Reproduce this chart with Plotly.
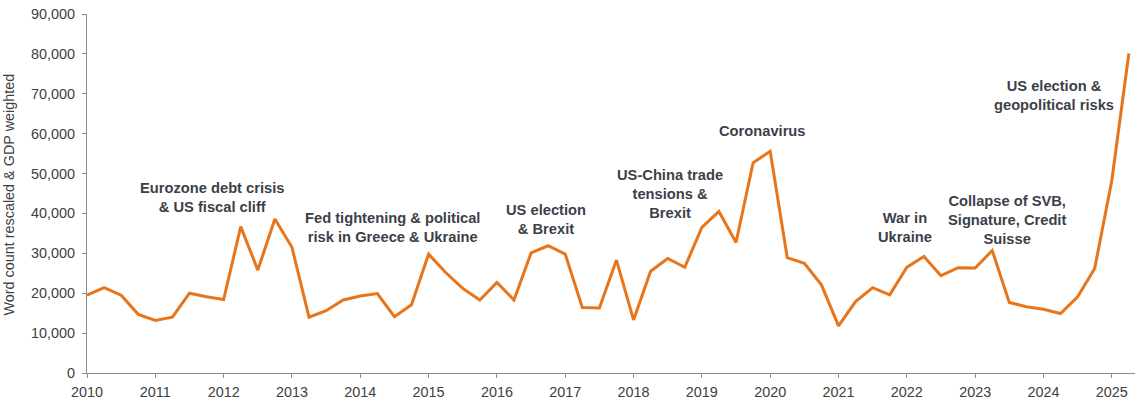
import plotly.graph_objects as go

quarters = [2010 + 0.25 * i for i in range(62)]
values = [
    19500, 21400, 19500, 14700, 13200, 14000, 20000, 19100,
    18400, 36700, 25800, 38600, 31500, 14000, 15600, 18300,
    19300, 19900, 14100, 17100, 29800, 25200, 21200, 18300,
    22700, 18300, 30100, 31900, 29800, 16400, 16300, 28300,
    13300, 25500, 28700, 26500, 36500, 40500, 32700, 52700,
    55600, 28900, 27500, 22100, 11800, 17900, 21400, 19600,
    26500, 29200, 24400, 26400, 26300, 30700, 17700, 16600,
    16000, 14900, 19100, 26200, 48200, 80100,
]

year_ticks = list(range(2010, 2026))
y_ticks = list(range(0, 90001, 10000))
y_tick_labels = ["0" if v == 0 else f"{v:,}" for v in y_ticks]

events = [
    "Eurozone debt crisis<br>& US fiscal cliff",
    "Fed tightening & political<br>risk in Greece & Ukraine",
    "US election<br>& Brexit",
    "US-China trade<br>tensions &<br>Brexit",
    "Coronavirus",
    "War in<br>Ukraine",
    "Collapse of SVB,<br>Signature, Credit<br>Suisse",
    "US election &<br>geopolitical risks",
]
event_x = [2011.83, 2014.47, 2016.72, 2018.53, 2019.89, 2021.97, 2023.46, 2024.15]
event_y = [44000, 36450, 38460, 45000, 60600, 36450, 38460, 69600]

FONT = "Liberation Sans, Arial, sans-serif"
TEXT = "#404040"
AXIS = "#8C8C8C"

fig = go.Figure()
fig.add_trace(go.Scatter(
    x=quarters, y=values, mode="lines",
    line=dict(color="#E8751A", width=3),
    hoverinfo="skip", showlegend=False,
))

for t, x, y in zip(events, event_x, event_y):
    fig.add_annotation(
        x=x, y=y, xref="x", yref="y", text=f"<b>{t}</b>",
        showarrow=False, align="center",
        font=dict(family=FONT, size=14.7, color="#3C3F4A"),
    )

# y-axis title
fig.add_annotation(
    x=-0.0744, y=0.497, xref="paper", yref="paper",
    text="Word count rescaled & GDP weighted", textangle=-90,
    showarrow=False, xanchor="center", yanchor="middle",
    font=dict(family=FONT, size=14.4, color=TEXT),
)

fig.update_layout(
    width=1138, height=399,
    margin=dict(l=87, r=3, t=14, b=26),
    paper_bgcolor="white", plot_bgcolor="white",
    font=dict(family=FONT, size=14.4, color=TEXT),
    xaxis=dict(
        range=[2010, 2025.34], tickvals=year_ticks, ticktext=[str(y) for y in year_ticks],
        showgrid=False, zeroline=False, showline=True, linecolor=AXIS, linewidth=1,
        ticks="outside", ticklen=4, tickcolor=AXIS, automargin=False,
        tickfont=dict(family=FONT, size=14.4, color=TEXT),
        ticklabelstandoff=2,
    ),
    yaxis=dict(
        range=[0, 90000], tickvals=y_ticks, ticktext=y_tick_labels,
        showgrid=False, zeroline=False, showline=True, linecolor=AXIS, linewidth=1,
        ticks="outside", ticklen=4, tickcolor=AXIS, automargin=False,
        tickfont=dict(family=FONT, size=14.4, color=TEXT),
        ticklabelstandoff=4,
    ),
)

fig.write_html(
    "out.html",
    config={"displayModeBar": False},
    post_script="document.body.style.margin='0px';",
)
